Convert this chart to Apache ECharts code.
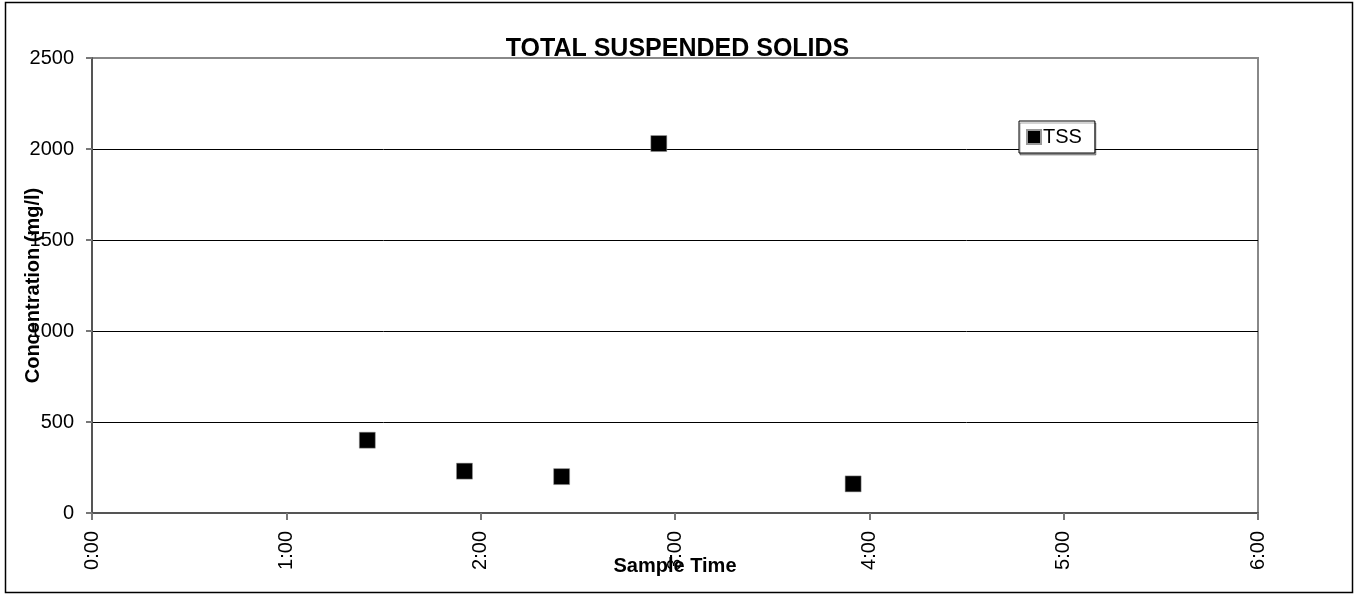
<!DOCTYPE html>
<html>
<head>
<meta charset="utf-8">
<title>Total Suspended Solids</title>
<script src="https://cdn.jsdelivr.net/npm/echarts@6/dist/echarts.min.js"></script>
<style>
  html, body { margin: 0; padding: 0; background: #fff; }
  #chart { width: 1355px; height: 596px; }
</style>
</head>
<body>
<div id="chart"></div>
<script>
// sample times (h:mm) and TSS concentration (mg/l)
var sampleTimes = ['1:25', '1:55', '2:25', '2:55', '3:55'];
var tssValues = [400, 230, 200, 2030, 160];
var hourTicks = ['0:00', '1:00', '2:00', '3:00', '4:00', '5:00', '6:00'];

var toHours = function (t) {
    var p = t.split(':');
    return parseInt(p[0], 10) + parseInt(p[1], 10) / 60;
};

var convertData = function () {
    var res = [];
    for (var i = 0; i < sampleTimes.length; i++) {
        res.push([toHours(sampleTimes[i]), tssValues[i]]);
    }
    return res;
};

var font = 'Liberation Sans, Arial, sans-serif';
var chart = echarts.init(document.getElementById('chart'));
chart.setOption({
    animation: false,
    textStyle: { fontFamily: font },
    title: {
        text: 'TOTAL SUSPENDED SOLIDS',
        left: 'center',
        top: 32,
        textStyle: { fontSize: 25, fontWeight: 'bold', color: '#000', fontFamily: font }
    },
    graphic: [{
        type: 'rect',
        shape: { x: 5.5, y: 2.5, width: 1347, height: 590 },
        style: { fill: 'none', stroke: '#000', lineWidth: 1.5 },
        z: 100
    }],
    legend: {
        data: ['TSS'],
        left: 1019,
        top: 121,
        orient: 'vertical',
        icon: 'rect',
        itemWidth: 14,
        itemHeight: 14,
        itemGap: 5,
        padding: [6, 13, 6, 7],
        borderColor: '#000',
        borderWidth: 1,
        backgroundColor: '#fff',
        shadowColor: 'rgba(0,0,0,0.35)',
        shadowOffsetX: 1,
        shadowOffsetY: 2,
        itemStyle: { opacity: 1 },
        textStyle: { fontSize: 20, color: '#000', fontFamily: font, padding: [0, 0, 0, -3] }
    },
    grid: {
        left: 92,
        right: 97,
        top: 58,
        bottom: 83,
        containLabel: false,
        outerBoundsMode: 'none',
        show: true,
        borderColor: '#888',
        borderWidth: 2
    },
    xAxis: {
        type: 'value',
        min: 0,
        max: 6,
        interval: 1,
        name: 'Sample Time',
        nameLocation: 'middle',
        nameGap: 43,
        nameMoveOverlap: false,
        nameTextStyle: { fontSize: 20, fontWeight: 'bold', color: '#000', fontFamily: font },
        axisLine: { show: true, lineStyle: { color: '#555', width: 2 } },
        axisTick: { show: true, length: 7, lineStyle: { color: '#777', width: 2 } },
        axisLabel: {
            rotate: 90,
            margin: 18,
            fontSize: 20,
            color: '#000',
            fontFamily: font,
            formatter: function (v) { return hourTicks[Math.round(v)]; }
        },
        splitLine: { show: false }
    },
    yAxis: {
        type: 'value',
        min: 0,
        max: 2500,
        interval: 500,
        name: 'Concentration (mg/l)',
        nameLocation: 'middle',
        nameRotate: 90,
        nameGap: 49,
        nameMoveOverlap: false,
        nameTextStyle: { fontSize: 20, fontWeight: 'bold', color: '#000', fontFamily: font },
        axisLine: { show: true, lineStyle: { color: '#555', width: 2 } },
        axisTick: { show: true, length: 6, lineStyle: { color: '#777', width: 2 } },
        axisLabel: {
            margin: 18,
            fontSize: 20,
            color: '#000',
            fontFamily: font,
            formatter: function (v) { return String(v); }
        },
        splitLine: {
            show: true,
            lineStyle: { color: ['#555', '#000', '#000', '#000', '#000', '#888'], width: 1 }
        }
    },
    series: [{
        name: 'TSS',
        type: 'scatter',
        symbol: 'rect',
        symbolSize: 16,
        data: convertData(),
        itemStyle: { color: '#000', opacity: 1, borderColor: '#999', borderWidth: 0.5 },
        z: 5
    }]
});
</script>
</body>
</html>
